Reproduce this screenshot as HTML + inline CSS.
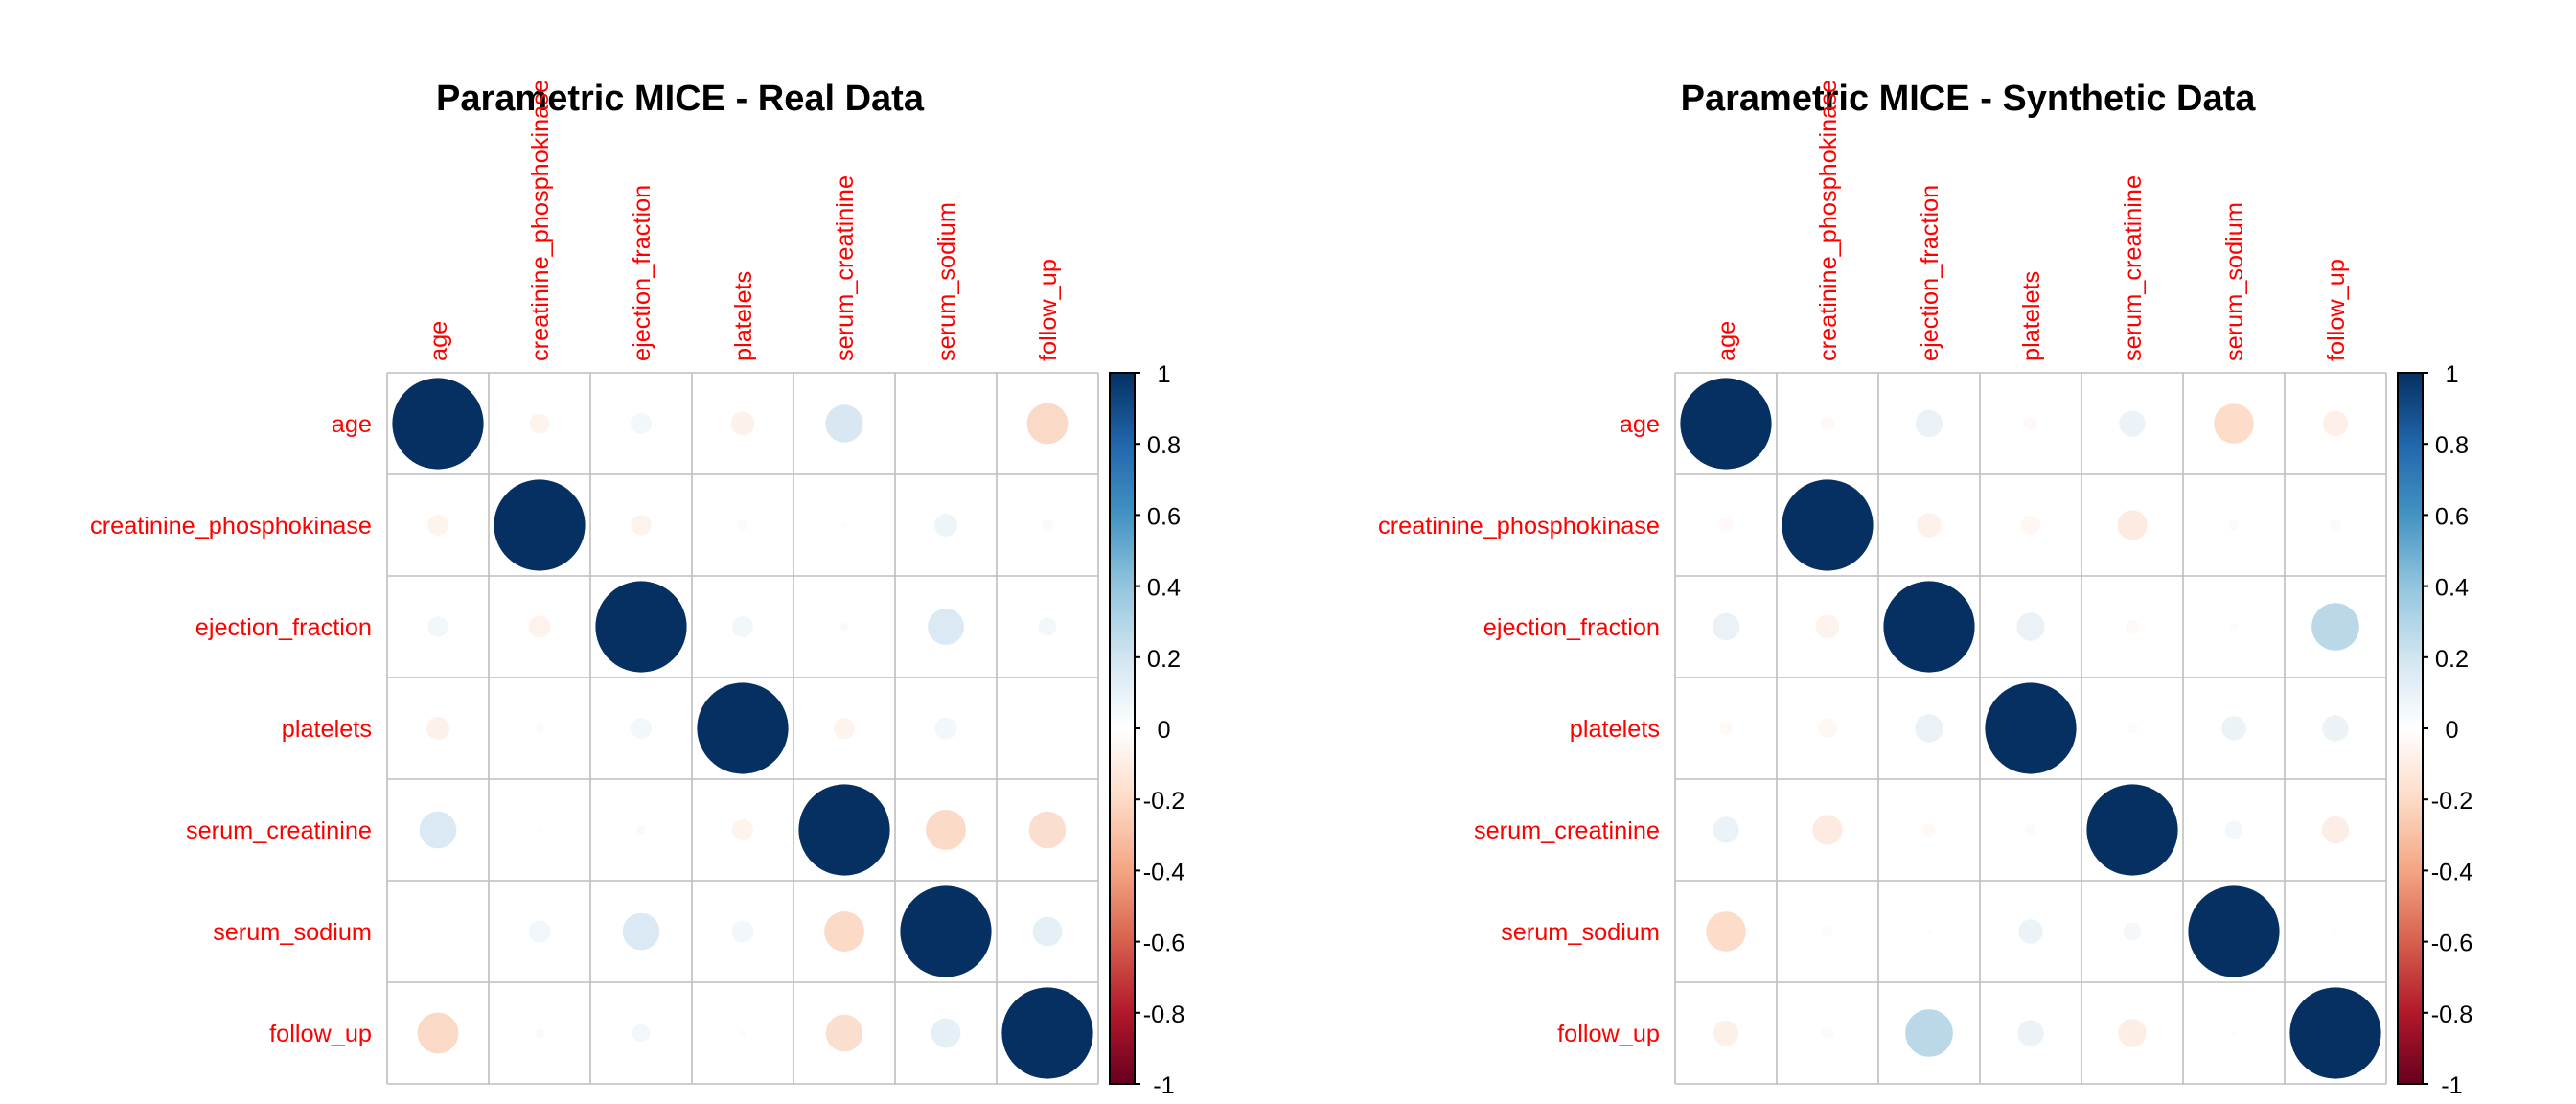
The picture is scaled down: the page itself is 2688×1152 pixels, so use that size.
<!DOCTYPE html>
<html>
<head>
<meta charset="utf-8">
<style>
html,body{margin:0;padding:0;background:#fff;}
svg{display:block;}
text{font-family:"Liberation Sans",Arial,sans-serif;}
.t{font-size:38px;font-weight:bold;fill:#000;text-anchor:middle;}
.rl{font-size:25.3px;fill:#ff0000;text-anchor:end;}
.cl{font-size:25.3px;fill:#ff0000;text-anchor:start;}
.tk{font-size:25.3px;fill:#000;text-anchor:middle;}
.g line{stroke:#bebebe;stroke-width:1.6;}
.cb line{stroke:#000;stroke-width:2;}
</style>
</head>
<body>
<svg width="2688" height="1152" viewBox="0 0 2688 1152" xmlns="http://www.w3.org/2000/svg">
<defs>
<linearGradient id="rdbu" x1="0" y1="0" x2="0" y2="1">
<stop offset="0" stop-color="#053061"/>
<stop offset="0.1" stop-color="#2166AC"/>
<stop offset="0.2" stop-color="#4393C3"/>
<stop offset="0.3" stop-color="#92C5DE"/>
<stop offset="0.4" stop-color="#D1E5F0"/>
<stop offset="0.5" stop-color="#FFFFFF"/>
<stop offset="0.6" stop-color="#FDDBC7"/>
<stop offset="0.7" stop-color="#F4A582"/>
<stop offset="0.8" stop-color="#D6604D"/>
<stop offset="0.9" stop-color="#B2182B"/>
<stop offset="1" stop-color="#67001F"/>
</linearGradient>
</defs>
<rect width="2688" height="1152" fill="#fff"/>

<!-- ===================== LEFT PLOT ===================== -->
<text class="t" x="709.5" y="115">Parametric MICE - Real Data</text>

<!-- column labels -->
<text class="cl" transform="translate(466,377) rotate(-90)">age</text>
<text class="cl" transform="translate(572,377) rotate(-90)">creatinine_phosphokinase</text>
<text class="cl" transform="translate(678,377) rotate(-90)">ejection_fraction</text>
<text class="cl" transform="translate(784,377) rotate(-90)">platelets</text>
<text class="cl" transform="translate(890,377) rotate(-90)">serum_creatinine</text>
<text class="cl" transform="translate(996,377) rotate(-90)">serum_sodium</text>
<text class="cl" transform="translate(1102,377) rotate(-90)">follow_up</text>

<!-- row labels -->
<text class="rl" x="388" y="451">age</text>
<text class="rl" x="388" y="557">creatinine_phosphokinase</text>
<text class="rl" x="388" y="663">ejection_fraction</text>
<text class="rl" x="388" y="769">platelets</text>
<text class="rl" x="388" y="875">serum_creatinine</text>
<text class="rl" x="388" y="981">serum_sodium</text>
<text class="rl" x="388" y="1087">follow_up</text>

<!-- circles -->
<g>
<!-- diagonal -->
<circle cx="457" cy="442" r="47.6" fill="#053061"/>
<circle cx="563" cy="548" r="47.6" fill="#053061"/>
<circle cx="669" cy="654" r="47.6" fill="#053061"/>
<circle cx="775" cy="760" r="47.6" fill="#053061"/>
<circle cx="881" cy="866" r="47.6" fill="#053061"/>
<circle cx="987" cy="972" r="47.6" fill="#053061"/>
<circle cx="1093" cy="1078" r="47.6" fill="#053061"/>
<!-- row 1 -->
<circle cx="563" cy="442" r="10.5" fill="#FEF4EE"/>
<circle cx="669" cy="442" r="11" fill="#F2F7FA"/>
<circle cx="775" cy="442" r="12.4" fill="#FDF1EB"/>
<circle cx="881" cy="442" r="19.7" fill="#D8E7F1"/>
<circle cx="1093" cy="442" r="21.4" fill="#FADAC7"/>
<!-- row 2 -->
<circle cx="457" cy="548" r="11" fill="#FEF4EE"/>
<circle cx="669" cy="548" r="10.6" fill="#FEF2EC"/>
<circle cx="775" cy="548" r="5.5" fill="#FAFBFC"/>
<circle cx="881" cy="548" r="3" fill="#FBFCFD"/>
<circle cx="987" cy="548" r="12" fill="#EEF5F9"/>
<circle cx="1093" cy="548" r="6" fill="#F9FAFB"/>
<!-- row 3 -->
<circle cx="457" cy="654" r="10.7" fill="#F2F7FA"/>
<circle cx="563" cy="654" r="11.5" fill="#FEF2EC"/>
<circle cx="775" cy="654" r="11" fill="#F2F7FA"/>
<circle cx="881" cy="654" r="4.5" fill="#F8FAFC"/>
<circle cx="987" cy="654" r="18.9" fill="#DAE9F3"/>
<circle cx="1093" cy="654" r="9.4" fill="#F2F7FA"/>
<!-- row 4 -->
<circle cx="457" cy="760" r="12" fill="#FDF1EB"/>
<circle cx="563" cy="760" r="4.7" fill="#FAFAFA"/>
<circle cx="669" cy="760" r="11" fill="#F2F7FA"/>
<circle cx="881" cy="760" r="11" fill="#FEF3ED"/>
<circle cx="987" cy="760" r="11.5" fill="#F1F7FA"/>
<circle cx="1093" cy="760" r="2" fill="#FCFCFC"/>
<!-- row 5 -->
<circle cx="457" cy="866" r="19.3" fill="#DAE9F3"/>
<circle cx="563" cy="866" r="2.5" fill="#FCFCFC"/>
<circle cx="669" cy="866" r="4.7" fill="#F8FAFC"/>
<circle cx="775" cy="866" r="11" fill="#FEF3ED"/>
<circle cx="987" cy="866" r="21" fill="#FBDBC8"/>
<circle cx="1093" cy="866" r="19.3" fill="#FBDFCE"/>
<!-- row 6 -->
<circle cx="563" cy="972" r="11.5" fill="#F1F7FA"/>
<circle cx="669" cy="972" r="19.3" fill="#DAE9F3"/>
<circle cx="775" cy="972" r="11.5" fill="#F1F7FA"/>
<circle cx="881" cy="972" r="21" fill="#FBDBC8"/>
<circle cx="1093" cy="972" r="15.4" fill="#E5F0F6"/>
<!-- row 7 -->
<circle cx="457" cy="1078" r="21.4" fill="#FADAC7"/>
<circle cx="563" cy="1078" r="4.7" fill="#FAFAFA"/>
<circle cx="669" cy="1078" r="9.4" fill="#F2F7FA"/>
<circle cx="775" cy="1078" r="3" fill="#FBFBFB"/>
<circle cx="881" cy="1078" r="19.3" fill="#FBDFCE"/>
<circle cx="987" cy="1078" r="15.4" fill="#E5F0F6"/>
</g>

<!-- grid -->
<g class="g">
<line x1="404" y1="389" x2="404" y2="1131"/>
<line x1="510" y1="389" x2="510" y2="1131"/>
<line x1="616" y1="389" x2="616" y2="1131"/>
<line x1="722" y1="389" x2="722" y2="1131"/>
<line x1="828" y1="389" x2="828" y2="1131"/>
<line x1="934" y1="389" x2="934" y2="1131"/>
<line x1="1040" y1="389" x2="1040" y2="1131"/>
<line x1="1146" y1="389" x2="1146" y2="1131"/>
<line x1="404" y1="389" x2="1146" y2="389"/>
<line x1="404" y1="495" x2="1146" y2="495"/>
<line x1="404" y1="601" x2="1146" y2="601"/>
<line x1="404" y1="707" x2="1146" y2="707"/>
<line x1="404" y1="813" x2="1146" y2="813"/>
<line x1="404" y1="919" x2="1146" y2="919"/>
<line x1="404" y1="1025" x2="1146" y2="1025"/>
<line x1="404" y1="1131" x2="1146" y2="1131"/>
</g>

<!-- colorbar -->
<g class="cb">
<rect x="1158" y="389" width="26" height="742" fill="url(#rdbu)" stroke="#000" stroke-width="2"/>
<line x1="1184" y1="389" x2="1190" y2="389"/>
<line x1="1184" y1="463.2" x2="1190" y2="463.2"/>
<line x1="1184" y1="537.4" x2="1190" y2="537.4"/>
<line x1="1184" y1="611.6" x2="1190" y2="611.6"/>
<line x1="1184" y1="685.8" x2="1190" y2="685.8"/>
<line x1="1184" y1="760" x2="1190" y2="760"/>
<line x1="1184" y1="834.2" x2="1190" y2="834.2"/>
<line x1="1184" y1="908.4" x2="1190" y2="908.4"/>
<line x1="1184" y1="982.6" x2="1190" y2="982.6"/>
<line x1="1184" y1="1056.8" x2="1190" y2="1056.8"/>
<line x1="1184" y1="1131" x2="1190" y2="1131"/>
</g>
<text class="tk" x="1214.5" y="399">1</text>
<text class="tk" x="1214.5" y="473.2">0.8</text>
<text class="tk" x="1214.5" y="547.4">0.6</text>
<text class="tk" x="1214.5" y="621.6">0.4</text>
<text class="tk" x="1214.5" y="695.8">0.2</text>
<text class="tk" x="1214.5" y="770">0</text>
<text class="tk" x="1214.5" y="844.2">-0.2</text>
<text class="tk" x="1214.5" y="918.4">-0.4</text>
<text class="tk" x="1214.5" y="992.6">-0.6</text>
<text class="tk" x="1214.5" y="1066.8">-0.8</text>
<text class="tk" x="1214.5" y="1141">-1</text>

<!-- ===================== RIGHT PLOT ===================== -->
<text class="t" x="2053.5" y="115">Parametric MICE - Synthetic Data</text>

<text class="cl" transform="translate(1810,377) rotate(-90)">age</text>
<text class="cl" transform="translate(1916,377) rotate(-90)">creatinine_phosphokinase</text>
<text class="cl" transform="translate(2022,377) rotate(-90)">ejection_fraction</text>
<text class="cl" transform="translate(2128,377) rotate(-90)">platelets</text>
<text class="cl" transform="translate(2234,377) rotate(-90)">serum_creatinine</text>
<text class="cl" transform="translate(2340,377) rotate(-90)">serum_sodium</text>
<text class="cl" transform="translate(2446,377) rotate(-90)">follow_up</text>

<text class="rl" x="1732" y="451">age</text>
<text class="rl" x="1732" y="557">creatinine_phosphokinase</text>
<text class="rl" x="1732" y="663">ejection_fraction</text>
<text class="rl" x="1732" y="769">platelets</text>
<text class="rl" x="1732" y="875">serum_creatinine</text>
<text class="rl" x="1732" y="981">serum_sodium</text>
<text class="rl" x="1732" y="1087">follow_up</text>

<g>
<!-- diagonal -->
<circle cx="1801" cy="442" r="47.6" fill="#053061"/>
<circle cx="1907" cy="548" r="47.6" fill="#053061"/>
<circle cx="2013" cy="654" r="47.6" fill="#053061"/>
<circle cx="2119" cy="760" r="47.6" fill="#053061"/>
<circle cx="2225" cy="866" r="47.6" fill="#053061"/>
<circle cx="2331" cy="972" r="47.6" fill="#053061"/>
<circle cx="2437" cy="1078" r="47.6" fill="#053061"/>
<!-- row 1 -->
<circle cx="1907" cy="442" r="7.6" fill="#FEF9F7"/>
<circle cx="2013" cy="442" r="14.2" fill="#EAF2F8"/>
<circle cx="2119" cy="442" r="7.1" fill="#FEF9F7"/>
<circle cx="2225" cy="442" r="13.7" fill="#EBF3F8"/>
<circle cx="2331" cy="442" r="20.8" fill="#FDDCC9"/>
<circle cx="2437" cy="442" r="13.2" fill="#FDF0E8"/>
<!-- row 2 -->
<circle cx="1801" cy="548" r="7.8" fill="#FEF9F7"/>
<circle cx="2013" cy="548" r="12.8" fill="#FDF1EB"/>
<circle cx="2119" cy="548" r="10" fill="#FEF7F3"/>
<circle cx="2225" cy="548" r="15.6" fill="#FDEBE1"/>
<circle cx="2331" cy="548" r="5.7" fill="#FBFBFB"/>
<circle cx="2437" cy="548" r="6.2" fill="#FBFBFB"/>
<!-- row 3 -->
<circle cx="1801" cy="654" r="14.2" fill="#EAF2F8"/>
<circle cx="1907" cy="654" r="12.3" fill="#FDF2EC"/>
<circle cx="2119" cy="654" r="14.7" fill="#EAF2F7"/>
<circle cx="2225" cy="654" r="7.1" fill="#FEF9F7"/>
<circle cx="2331" cy="654" r="4.3" fill="#FCFCFC"/>
<circle cx="2437" cy="654" r="24.8" fill="#BAD8E8"/>
<!-- row 4 -->
<circle cx="1801" cy="760" r="7.1" fill="#FEF9F7"/>
<circle cx="1907" cy="760" r="10" fill="#FEF7F3"/>
<circle cx="2013" cy="760" r="14.7" fill="#EAF2F7"/>
<circle cx="2225" cy="760" r="5.7" fill="#FBFBFB"/>
<circle cx="2331" cy="760" r="12.8" fill="#ECF3F7"/>
<circle cx="2437" cy="760" r="13.7" fill="#ECF3F7"/>
<!-- row 5 -->
<circle cx="1801" cy="866" r="13.7" fill="#EBF3F8"/>
<circle cx="1907" cy="866" r="15.6" fill="#FDEBE1"/>
<circle cx="2013" cy="866" r="7.1" fill="#FEF9F7"/>
<circle cx="2119" cy="866" r="5.7" fill="#FBFBFB"/>
<circle cx="2331" cy="866" r="9.5" fill="#F4F8FB"/>
<circle cx="2437" cy="866" r="14.2" fill="#FDEEE5"/>
<!-- row 6 -->
<circle cx="1801" cy="972" r="20.8" fill="#FDDCC9"/>
<circle cx="1907" cy="972" r="5.7" fill="#FBFBFB"/>
<circle cx="2013" cy="972" r="2.5" fill="#FCFCFC"/>
<circle cx="2119" cy="972" r="12.8" fill="#ECF3F7"/>
<circle cx="2225" cy="972" r="9.5" fill="#F4F8FB"/>
<circle cx="2437" cy="972" r="2.5" fill="#FCFCFC"/>
<!-- row 7 -->
<circle cx="1801" cy="1078" r="13.2" fill="#FDF0E8"/>
<circle cx="1907" cy="1078" r="6.6" fill="#FBFBFB"/>
<circle cx="2013" cy="1078" r="24.8" fill="#BAD8E8"/>
<circle cx="2119" cy="1078" r="13.7" fill="#ECF3F7"/>
<circle cx="2225" cy="1078" r="14.7" fill="#FDEEE5"/>
<circle cx="2331" cy="1078" r="2.5" fill="#FCFCFC"/>
</g>

<g class="g">
<line x1="1748" y1="389" x2="1748" y2="1131"/>
<line x1="1854" y1="389" x2="1854" y2="1131"/>
<line x1="1960" y1="389" x2="1960" y2="1131"/>
<line x1="2066" y1="389" x2="2066" y2="1131"/>
<line x1="2172" y1="389" x2="2172" y2="1131"/>
<line x1="2278" y1="389" x2="2278" y2="1131"/>
<line x1="2384" y1="389" x2="2384" y2="1131"/>
<line x1="2490" y1="389" x2="2490" y2="1131"/>
<line x1="1748" y1="389" x2="2490" y2="389"/>
<line x1="1748" y1="495" x2="2490" y2="495"/>
<line x1="1748" y1="601" x2="2490" y2="601"/>
<line x1="1748" y1="707" x2="2490" y2="707"/>
<line x1="1748" y1="813" x2="2490" y2="813"/>
<line x1="1748" y1="919" x2="2490" y2="919"/>
<line x1="1748" y1="1025" x2="2490" y2="1025"/>
<line x1="1748" y1="1131" x2="2490" y2="1131"/>
</g>

<g class="cb">
<rect x="2502" y="389" width="26" height="742" fill="url(#rdbu)" stroke="#000" stroke-width="2"/>
<line x1="2528" y1="389" x2="2534" y2="389"/>
<line x1="2528" y1="463.2" x2="2534" y2="463.2"/>
<line x1="2528" y1="537.4" x2="2534" y2="537.4"/>
<line x1="2528" y1="611.6" x2="2534" y2="611.6"/>
<line x1="2528" y1="685.8" x2="2534" y2="685.8"/>
<line x1="2528" y1="760" x2="2534" y2="760"/>
<line x1="2528" y1="834.2" x2="2534" y2="834.2"/>
<line x1="2528" y1="908.4" x2="2534" y2="908.4"/>
<line x1="2528" y1="982.6" x2="2534" y2="982.6"/>
<line x1="2528" y1="1056.8" x2="2534" y2="1056.8"/>
<line x1="2528" y1="1131" x2="2534" y2="1131"/>
</g>
<text class="tk" x="2558.5" y="399">1</text>
<text class="tk" x="2558.5" y="473.2">0.8</text>
<text class="tk" x="2558.5" y="547.4">0.6</text>
<text class="tk" x="2558.5" y="621.6">0.4</text>
<text class="tk" x="2558.5" y="695.8">0.2</text>
<text class="tk" x="2558.5" y="770">0</text>
<text class="tk" x="2558.5" y="844.2">-0.2</text>
<text class="tk" x="2558.5" y="918.4">-0.4</text>
<text class="tk" x="2558.5" y="992.6">-0.6</text>
<text class="tk" x="2558.5" y="1066.8">-0.8</text>
<text class="tk" x="2558.5" y="1141">-1</text>
</svg>
</body>
</html>
